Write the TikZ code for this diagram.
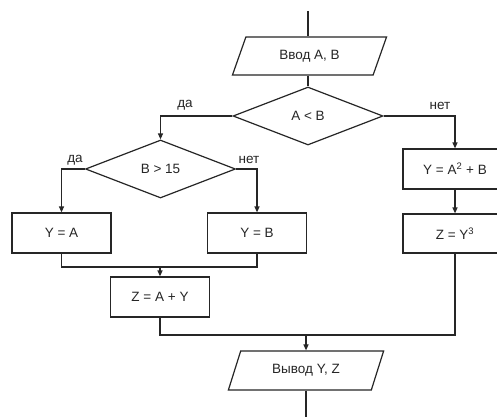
\documentclass[tikz,border=0pt]{standalone}
\usepackage{fontspec}
\setmainfont{Liberation Sans}
\usetikzlibrary{shapes.geometric,arrows.meta}
\begin{document}
\begin{tikzpicture}[x=1pt,y=-1pt,
  every node/.style={font=\fontsize{13.5}{15}\selectfont, text=black!85},
  ln/.style={draw=black!85, line width=1.2pt},
  arr/.style={ln, -{Triangle[length=6pt,width=5pt]}},
  proc/.style={ln, rectangle, minimum width=99pt, minimum height=40pt, inner sep=0pt},
  dec/.style={ln, diamond, minimum width=150pt, minimum height=58pt, inner sep=0pt},
  io/.style={ln, trapezium, trapezium left angle=62, trapezium right angle=118,
     trapezium stretches=true, minimum width=155pt, minimum height=38pt, inner sep=0pt},
  lbl/.style={inner sep=0pt}
]
\useasboundingbox[fill=white] (0,0) rectangle (497,417);
\coordinate (start) at (308,11);
\node[io] (in) at (309.5,56) {Ввод A, B};
\node[dec] (d1) at (308,116) {A < B};
\node[dec] (d2) at (160.5,169) {B > 15};
\node[proc] (ya) at (61.5,233) {Y = A};
\node[proc] (yb) at (257,233) {Y = B};
\node[proc] (zay) at (160,297) {Z = A + Y};
\node[proc, minimum width=104pt] (ya2) at (455,169) {Y = A\textsuperscript{2} + B};
\node[proc, minimum width=104pt, minimum height=39pt] (zy3) at (455,233.5) {Z = Y\textsuperscript{3}};
\node[io, minimum width=156pt, minimum height=39pt] (out) at (306,370.5) {Вывод Y, Z};
\coordinate (end) at (306,417);
\coordinate (m1) at (160,267);
\coordinate (m2) at (306,335);

\node[lbl] (l1) at (185,105) {да};
\node[lbl] (l2) at (440,106) {нет};
\node[lbl] (l3) at (75,160) {да};
\node[lbl] (l4) at (249,160) {нет};

\draw[ln] (start) -- (in.north -| start);
\draw[ln] (in.south -| start) -- (d1.north);
\draw[arr] (d1.west) -| (d2.north);
\draw[arr] (d1.east) -| (ya2.north);
\draw[arr] (d2.west) -| (ya.north);
\draw[arr] (d2.east) -| (yb.north);
\draw[ln] (ya.south) |- (m1) -| (yb.south);
\draw[arr] (m1) -- (zay.north);
\draw[arr] (ya2.south) -- (zy3.north);
\draw[ln] (zay.south) |- (m2) -| (zy3.south);
\draw[arr] (m2) -- (out.north -| m2);
\draw[ln] (out.south -| end) -- (end);
\end{tikzpicture}
\end{document}
